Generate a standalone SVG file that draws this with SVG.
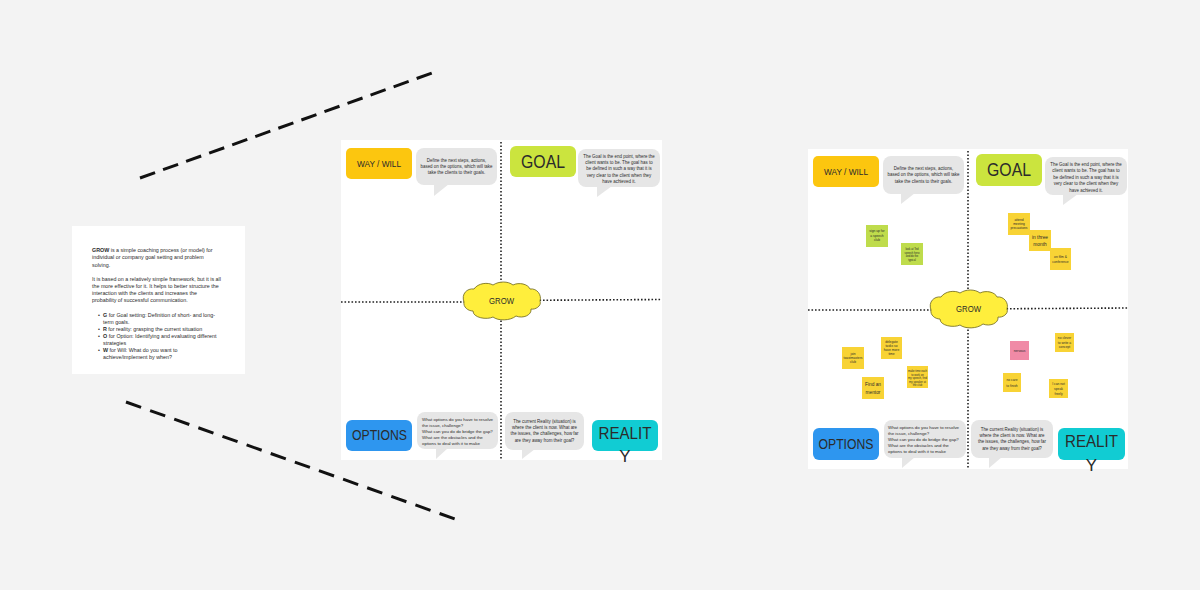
<svg xmlns="http://www.w3.org/2000/svg" width="1200" height="590" viewBox="0 0 1200 590">
<style>
text{font-family:"Liberation Sans",Arial,sans-serif;fill:#2b2b2b}
.card{fill:#fff}
.way{fill:#fcc60f}.goal{fill:#cbe43e}.opt{fill:#2e96ef}.rea{fill:#11ccd3}
.bub{fill:#e6e6e6}
.bt{font-size:4.450px;text-anchor:middle}
.bl{font-size:4.400px}
.dash{stroke:#111;stroke-width:3;fill:none}
.dot{stroke:#222;stroke-width:1.6;stroke-dasharray:1.6 1.9;fill:none}
.cloud{fill:#ffee3c;stroke:#6b6420;stroke-width:.8}
.sy{fill:#f8d335}.sg{fill:#bfdc4c}.sp{fill:#f08aa6}
.st{font-size:3.300px;text-anchor:middle}
.s3{font-size:2.700px;text-anchor:middle}
.sb{font-size:4.800px;text-anchor:middle}
.lt{font-size:5.350px}
.m8{font-size:9.300px;text-anchor:middle}
.m12{font-size:14px;text-anchor:middle}
.m15{font-size:17px;text-anchor:middle}
.m16{font-size:18px;text-anchor:middle}
.g8{font-size:9.300px;text-anchor:middle}
</style>
<defs>
<path id="cloudp" d="M464,302 C461,294 467,288 474,289 C478,283 488,282 493,285 C499,281 508,281 513,285 C519,282 528,284 530,289 C537,288 542,295 540,301 C542,306 535,310 531,309 C532,315 523,319 516,316 C510,321 498,321 493,317 C487,320 473,318 473,311 C468,311 463,307 464,302 Z"/>
</defs>
<rect width="1200" height="590" fill="#f3f3f3"/>

<g id="intro-card">
<rect class="card" x="72" y="226" width="173" height="148"/>
<text class="lt" x="92" y="252"><tspan font-weight="bold">GROW</tspan> is a simple coaching process (or model) for</text>
<text class="lt" x="92" y="259.300">individual or company goal setting and problem</text>
<text class="lt" x="92" y="266.700">solving.</text>
<text class="lt" x="92" y="280.700">It is based on a relatively simple framework, but it is all</text>
<text class="lt" x="92" y="288">the more effective for it. It helps to better structure the</text>
<text class="lt" x="92" y="295">interaction with the clients and increases the</text>
<text class="lt" x="92" y="302">probability of successful communication.</text>
<text class="lt" x="98" y="316.700">•</text>
<text class="lt" x="103" y="316.700"><tspan font-weight="bold">G</tspan> for Goal setting: Definition of short- and long-</text>
<text class="lt" x="103" y="323.700">term goals.</text>
<text class="lt" x="98" y="330.700">•</text>
<text class="lt" x="103" y="330.700"><tspan font-weight="bold">R</tspan> for reality: grasping the current situation</text>
<text class="lt" x="98" y="338">•</text>
<text class="lt" x="103" y="338"><tspan font-weight="bold">O</tspan> for Option: Identifying and evaluating different</text>
<text class="lt" x="103" y="345">strategies</text>
<text class="lt" x="98" y="352">•</text>
<text class="lt" x="103" y="352"><tspan font-weight="bold">W</tspan> for Will: What do you want to</text>
<text class="lt" x="103" y="359">achieve/implement by when?</text>
</g>

<g id="connectors">
<line class="dash" x1="140" y1="178" x2="432" y2="73" stroke-dasharray="16 8.500"/>
<line class="dash" x1="126" y1="402" x2="455" y2="519" stroke-dasharray="16 9.600"/>
</g>

<g id="board-1">
<rect class="card" x="341" y="140" width="321" height="320"/>
<line class="dot" x1="501" y1="142" x2="501" y2="460"/>
<line class="dot" x1="341" y1="302" x2="501" y2="302"/>
<line class="dot" x1="501" y1="300.500" x2="662" y2="299.500"/>
<g id="b1-way">
<rect class="way" x="346" y="148" width="66" height="31" rx="5"/>
<text class="m8" x="379" y="166.500" textLength="44" lengthAdjust="spacingAndGlyphs">WAY / WILL</text>
</g>
<g id="b1-way-note">
<rect class="bub" x="416" y="148" width="81" height="37" rx="8"/><path class="bub" d="M434,184H449L434,196Z"/>
<text class="bt" x="456.500" y="161.700">Define the next steps, actions,</text>
<text class="bt" x="456.500" y="168">based on the options, which will take</text>
<text class="bt" x="456.500" y="174.200">take the clients to their goals.</text>
</g>
<g id="b1-goal">
<rect class="goal" x="510" y="146" width="66" height="31" rx="6"/>
<text class="m16" x="543" y="167.500" textLength="44" lengthAdjust="spacingAndGlyphs">GOAL</text>
</g>
<g id="b1-goal-note">
<rect class="bub" x="578" y="149" width="82" height="38" rx="8"/><path class="bub" d="M597,186H612L597,197Z"/>
<text class="bt" x="619" y="157.500">The Goal is the end point, where the</text>
<text class="bt" x="619" y="163.900">client wants to be. The goal has to</text>
<text class="bt" x="619" y="170.300">be defined in such a way that it is</text>
<text class="bt" x="619" y="176.700">very clear to the client when they</text>
<text class="bt" x="619" y="183.100">have achieved it.</text>
</g>
<g id="b1-options">
<rect class="opt" x="346" y="420" width="66" height="31" rx="6"/>
<text class="m12" x="379.500" y="440" textLength="55" lengthAdjust="spacingAndGlyphs">OPTIONS</text>
</g>
<g id="b1-options-note">
<rect class="bub" x="417" y="412" width="81" height="37" rx="8"/><path class="bub" d="M436,448H448L436,459Z"/>
<text class="bl" x="422" y="420.700">What options do you have to resolve</text>
<text class="bl" x="422" y="426.800">the issue, challenge?</text>
<text class="bl" x="422" y="432.900">What can you do do bridge the gap?</text>
<text class="bl" x="422" y="439">What are the obstacles and the</text>
<text class="bl" x="422" y="445.100">options to deal with it to make</text>
</g>
<g id="b1-reality-note">
<rect class="bub" x="505" y="412" width="79" height="38" rx="8"/><path class="bub" d="M522,449H535L522,459Z"/>
<text class="bt" x="544.500" y="422.700">The current Reality (situation) is</text>
<text class="bt" x="544.500" y="429">where the client is now. What are</text>
<text class="bt" x="544.500" y="435.300">the issues, the challenges, how far</text>
<text class="bt" x="544.500" y="441.600">are they away from their goal?</text>
</g>
<g id="b1-reality">
<rect class="rea" x="592" y="420" width="66" height="31" rx="6"/>
<text class="m15" x="625" y="438.500" textLength="53" lengthAdjust="spacingAndGlyphs">REALIT</text>
<text class="m15" x="625" y="462">Y</text>
</g>
<g id="b1-grow">
<use href="#cloudp" class="cloud"/>
<text class="g8" x="501.500" y="303.500" textLength="25" lengthAdjust="spacingAndGlyphs">GROW</text>
</g>
</g>

<g id="board-2">
<rect class="card" x="808" y="149" width="320" height="320"/>
<line class="dot" x1="968" y1="151" x2="968" y2="469"/>
<line class="dot" x1="808" y1="310" x2="968" y2="310"/>
<line class="dot" x1="968" y1="309" x2="1128" y2="308"/>
<g id="b2-way">
<rect class="way" x="813" y="156" width="66" height="31" rx="5"/>
<text class="m8" x="846" y="174.500" textLength="44" lengthAdjust="spacingAndGlyphs">WAY / WILL</text>
</g>
<g id="b2-way-note">
<rect class="bub" x="883" y="156" width="81" height="38" rx="8"/><path class="bub" d="M901,193H915L901,204Z"/>
<text class="bt" x="923.500" y="170">Define the next steps, actions,</text>
<text class="bt" x="923.500" y="176.300">based on the options, which will take</text>
<text class="bt" x="923.500" y="182.600">take the clients to their goals.</text>
</g>
<g id="b2-goal">
<rect class="goal" x="976" y="154" width="66" height="32" rx="6"/>
<text class="m16" x="1009" y="176" textLength="44" lengthAdjust="spacingAndGlyphs">GOAL</text>
</g>
<g id="b2-goal-note">
<rect class="bub" x="1045" y="157" width="82" height="38" rx="8"/><path class="bub" d="M1063,194H1078L1063,205Z"/>
<text class="bt" x="1086" y="166">The Goal is the end point, where the</text>
<text class="bt" x="1086" y="172.400">client wants to be. The goal has to</text>
<text class="bt" x="1086" y="178.800">be defined in such a way that it is</text>
<text class="bt" x="1086" y="185.200">very clear to the client when they</text>
<text class="bt" x="1086" y="191.600">have achieved it.</text>
</g>
<g id="b2-options">
<rect class="opt" x="813" y="428" width="66" height="32" rx="6"/>
<text class="m12" x="846" y="448.500" textLength="55" lengthAdjust="spacingAndGlyphs">OPTIONS</text>
</g>
<g id="b2-options-note">
<rect class="bub" x="884" y="420" width="82" height="38" rx="8"/><path class="bub" d="M902,457H915L902,468Z"/>
<text class="bl" x="888" y="428.500">What options do you have to resolve</text>
<text class="bl" x="888" y="434.700">the issue, challenge?</text>
<text class="bl" x="888" y="440.900">What can you do do bridge the gap?</text>
<text class="bl" x="888" y="447.100">What are the obstacles and the</text>
<text class="bl" x="888" y="453.300">options to deal with it to make</text>
</g>
<g id="b2-reality-note">
<rect class="bub" x="971" y="420" width="82" height="38" rx="8"/><path class="bub" d="M989,457H1002L989,468Z"/>
<text class="bt" x="1012" y="431">The current Reality (situation) is</text>
<text class="bt" x="1012" y="437.200">where the client is now. What are</text>
<text class="bt" x="1012" y="443.400">the issues, the challenges, how far</text>
<text class="bt" x="1012" y="449.600">are they away from their goal?</text>
</g>
<g id="b2-reality">
<rect class="rea" x="1058" y="428" width="67" height="32" rx="6"/>
<text class="m15" x="1091.500" y="447" textLength="53" lengthAdjust="spacingAndGlyphs">REALIT</text>
<text class="m15" x="1091.500" y="470.500">Y</text>
</g>
<g id="b2-grow" transform="translate(467 8)">
<use href="#cloudp" class="cloud"/>
<text class="g8" x="501.500" y="303.500" textLength="25" lengthAdjust="spacingAndGlyphs">GROW</text>
</g>

<g id="sticky-1"><rect class="sg" x="866" y="225" width="22" height="22"/>
<text class="st" x="877" y="232">sign up for</text><text class="st" x="877" y="236.500">a speech</text><text class="st" x="877" y="241">club</text></g>
<g id="sticky-2"><rect class="sg" x="901" y="243" width="22" height="22"/>
<text class="s3" x="912" y="250">look at Ted</text><text class="s3" x="912" y="253.700">speech hero</text><text class="s3" x="912" y="257.400">and do the</text><text class="s3" x="912" y="261.100">typical</text></g>
<g id="sticky-3"><rect class="sy" x="1008" y="213" width="22" height="22"/>
<text class="st" x="1019" y="221">attend</text><text class="st" x="1019" y="225">meeting</text><text class="st" x="1019" y="229">precautions</text></g>
<g id="sticky-4"><rect class="sy" x="1029" y="230" width="22" height="21"/>
<text class="sb" x="1040" y="239">in three</text><text class="sb" x="1040" y="246">month</text></g>
<g id="sticky-5"><rect class="sy" x="1050" y="248" width="21" height="22"/>
<text class="st" x="1060.500" y="258">on film &amp;</text><text class="st" x="1060.500" y="263">conference</text></g>
<g id="sticky-6"><rect class="sy" x="842" y="347" width="22" height="22"/>
<text class="st" x="853" y="355">join</text><text class="st" x="853" y="359">toastmasters</text><text class="st" x="853" y="363">club</text></g>
<g id="sticky-7"><rect class="sy" x="881" y="337" width="21" height="22"/>
<text class="st" x="891.500" y="343">delegate</text><text class="st" x="891.500" y="347">tasks so</text><text class="st" x="891.500" y="351">have more</text><text class="st" x="891.500" y="355">time</text></g>
<g id="sticky-8"><rect class="sy" x="862" y="377" width="22" height="22"/>
<text class="sb" x="873" y="386">Find an</text><text class="sb" x="873" y="394">mentor</text></g>
<g id="sticky-9"><rect class="sy" x="907" y="366" width="21" height="22"/>
<text class="s3" x="917.500" y="372">make time each</text><text class="s3" x="917.500" y="375.500">to work on</text><text class="s3" x="917.500" y="379">my speech, find</text><text class="s3" x="917.500" y="382.500">my speaker at</text><text class="s3" x="917.500" y="386">the club</text></g>
<g id="sticky-10"><rect class="sp" x="1010" y="341" width="19" height="19"/>
<text class="st" x="1019.500" y="352">nervous</text></g>
<g id="sticky-11"><rect class="sy" x="1055" y="333" width="19" height="19"/>
<text class="st" x="1064.500" y="339">no clever</text><text class="st" x="1064.500" y="343.500">to write a</text><text class="st" x="1064.500" y="348">concept</text></g>
<g id="sticky-12"><rect class="sy" x="1003" y="373" width="18" height="19"/>
<text class="st" x="1012" y="381">no care</text><text class="st" x="1012" y="387">to finish</text></g>
<g id="sticky-13"><rect class="sy" x="1049" y="379" width="19" height="19"/>
<text class="st" x="1058.500" y="384.500">I can not</text><text class="st" x="1058.500" y="389.500">speak</text><text class="st" x="1058.500" y="394.500">freely</text></g>
</g>
</svg>
